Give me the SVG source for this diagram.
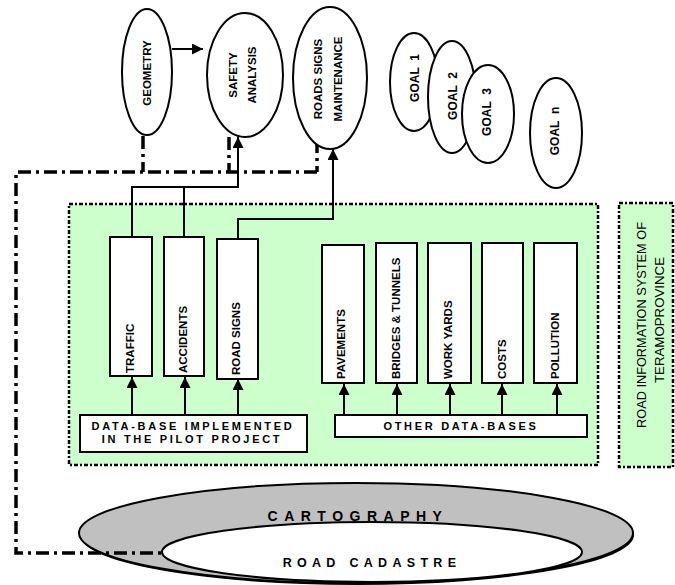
<svg xmlns="http://www.w3.org/2000/svg" width="675" height="585" viewBox="0 0 675 585">
<defs>
<marker id="ahs" viewBox="0 0 10 10" refX="10" refY="5" markerWidth="11" markerHeight="11" orient="auto" markerUnits="userSpaceOnUse">
<path d="M0,0 L10,5 L0,10 Z" fill="#000"/>
</marker>
</defs>
<style>
text{font-family:"Liberation Sans",Arial,sans-serif;font-weight:bold;fill:#000}
.el{fill:#fff;stroke:#000;stroke-width:2}
.bx{fill:#fff;stroke:#000;stroke-width:2}
.lbl{font-size:11.5px}
.gl{font-size:12px}
.sp{font-size:11px;letter-spacing:2.7px}
.ln{fill:none;stroke:#000;stroke-width:2}
.arr{fill:none;stroke:#000;stroke-width:2;marker-end:url(#ahs)}
.dd{fill:none;stroke:#000;stroke-width:3.5;stroke-dasharray:13 5 3 5}
.grn{fill:#ccffcc;stroke:#000;stroke-width:2.5;stroke-dasharray:4 2 2 2}
</style>

<g id="cartography">
<ellipse cx="357" cy="535" rx="277" ry="50" fill="#000"/>
<ellipse cx="356" cy="533" rx="277" ry="50" fill="#c0c0c0" stroke="#000" stroke-width="2"/>
<text x="358" y="521" text-anchor="middle" style="font-size:14px;letter-spacing:6.5px">CARTOGRAPHY</text>
</g>
<g id="road-cadastre">
<ellipse cx="372" cy="552" rx="210" ry="30" fill="#fff" stroke="#000" stroke-width="2"/>
<text x="372" y="567" text-anchor="middle" style="font-size:12.5px;letter-spacing:5.3px">ROAD CADASTRE</text>
</g>

<g id="pilot-area">
<rect x="69" y="204" width="529" height="261" class="grn"/>
</g>
<g id="road-info-system">
<rect x="619" y="203" width="54" height="264" class="grn"/>
<text transform="translate(646,325) rotate(-90)" text-anchor="middle" style="font-size:12px;font-weight:normal" textLength="206" lengthAdjust="spacingAndGlyphs">ROAD INFORMATION SYSTEM OF</text>
<text transform="translate(664,320) rotate(-90)" text-anchor="middle" style="font-size:12px;font-weight:normal" textLength="126" lengthAdjust="spacingAndGlyphs">TERAMOPROVINCE</text>
</g>

<g id="connectors">
<path class="dd" d="M143,136 V172 M229,137 V172 M317,140 V172 M317,172 H16 V553 H163"/>
<path class="ln" d="M132,237 V187 H238 V145"/>
<path class="ln" d="M184,237 V187"/>
<path class="arr" d="M238,152 V137"/>
<path class="ln" d="M238,239 V219 H333 V160"/>
<path class="arr" d="M333,165 V149"/>
<path class="arr" d="M172,49 H203"/>
<path class="arr" d="M132,415 V377"/>
<path class="arr" d="M185,415 V377"/>
<path class="arr" d="M238,415 V379"/>
<path class="arr" d="M344,415 V384"/>
<path class="arr" d="M397,415 V384"/>
<path class="arr" d="M450,415 V384"/>
<path class="arr" d="M502,415 V384"/>
<path class="arr" d="M557,415 V384"/>
</g>

<g id="geometry">
<ellipse cx="147" cy="72" rx="25" ry="63" class="el"/>
<text transform="translate(151,73) rotate(-90)" text-anchor="middle" class="lbl">GEOMETRY</text>
</g>
<g id="safety-analysis">
<ellipse cx="245" cy="75" rx="38" ry="62" class="el"/>
<text transform="translate(237,75) rotate(-90)" text-anchor="middle" class="lbl">SAFETY</text>
<text transform="translate(256,75) rotate(-90)" text-anchor="middle" class="lbl">ANALYSIS</text>
</g>
<g id="roads-signs-maintenance">
<ellipse cx="330" cy="78" rx="37" ry="71" class="el"/>
<text transform="translate(322,79) rotate(-90)" text-anchor="middle" class="lbl">ROADS SIGNS</text>
<text transform="translate(342,79) rotate(-90)" text-anchor="middle" class="lbl">MAINTENANCE</text>
</g>

<g id="goal-1">
<ellipse cx="414" cy="82" rx="24" ry="49" class="el"/>
<text transform="translate(419,78) rotate(-90)" text-anchor="middle" class="gl" xml:space="preserve">GOAL  1</text>
</g>
<g id="goal-2">
<ellipse cx="452" cy="97" rx="24" ry="56" class="el"/>
<text transform="translate(457,96) rotate(-90)" text-anchor="middle" class="gl" xml:space="preserve">GOAL  2</text>
</g>
<g id="goal-3">
<ellipse cx="488" cy="114" rx="26" ry="49" class="el"/>
<text transform="translate(491,112) rotate(-90)" text-anchor="middle" class="gl" xml:space="preserve">GOAL  3</text>
</g>
<g id="goal-n">
<ellipse cx="556" cy="133" rx="26" ry="55" class="el"/>
<text transform="translate(559,131) rotate(-90)" text-anchor="middle" class="gl" xml:space="preserve">GOAL  n</text>
</g>

<g id="traffic">
<rect x="110" y="237" width="42" height="139" class="bx"/>
<text transform="translate(134,373) rotate(-90)" class="lbl">TRAFFIC</text>
</g>
<g id="accidents">
<rect x="164" y="237" width="40" height="139" class="bx"/>
<text transform="translate(187,373) rotate(-90)" class="lbl">ACCIDENTS</text>
</g>
<g id="road-signs">
<rect x="217" y="239" width="41" height="140" class="bx"/>
<text transform="translate(240,375) rotate(-90)" class="lbl">ROAD SIGNS</text>
</g>
<g id="pavements">
<rect x="322" y="245" width="42" height="138" class="bx"/>
<text transform="translate(345,379) rotate(-90)" class="lbl">PAVEMENTS</text>
</g>
<g id="bridges-tunnels">
<rect x="376" y="243" width="41" height="140" class="bx"/>
<text transform="translate(400,379) rotate(-90)" class="lbl">BRIDGES &amp; TUNNELS</text>
</g>
<g id="work-yards">
<rect x="428" y="243" width="43" height="140" class="bx"/>
<text transform="translate(452,379) rotate(-90)" class="lbl">WORK YARDS</text>
</g>
<g id="costs">
<rect x="482" y="243" width="41" height="140" class="bx"/>
<text transform="translate(506,379) rotate(-90)" class="lbl">COSTS</text>
</g>
<g id="pollution">
<rect x="534" y="243" width="43" height="140" class="bx"/>
<text transform="translate(559,379) rotate(-90)" class="lbl">POLLUTION</text>
</g>

<g id="pilot-db">
<rect x="80" y="415" width="227" height="37" class="bx"/>
<text x="193" y="430" text-anchor="middle" class="sp">DATA-BASE IMPLEMENTED</text>
<text x="192" y="443" text-anchor="middle" class="sp">IN THE PILOT PROJECT</text>
</g>
<g id="other-db">
<rect x="335" y="415" width="252" height="22" class="bx"/>
<text x="461" y="430" text-anchor="middle" class="sp">OTHER DATA-BASES</text>
</g>
</svg>
